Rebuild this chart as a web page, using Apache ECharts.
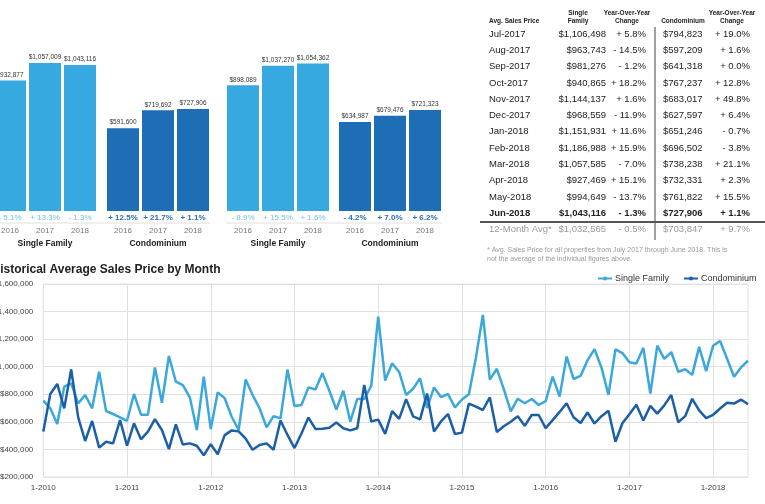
<!DOCTYPE html>
<html><head><meta charset="utf-8">
<script src="https://cdn.jsdelivr.net/npm/echarts@6/dist/echarts.min.js"></script>
<style>html,body{margin:0;padding:0;background:#fff}#c{width:765px;height:504px}</style>
</head><body><div id="c"></div>
<script>
// ---------- DATA ----------
const barYears = ['2016', '2017', '2018'];
const bar1SF = [932877, 1057009, 1043116];
const bar1SFChg = ['- 5.1%', '+ 13.3%', '- 1.3%'];
const bar1Condo = [591600, 719692, 727906];
const bar1CondoChg = ['+ 12.5%', '+ 21.7%', '+ 1.1%'];
const bar2SF = [898089, 1037270, 1054362];
const bar2SFChg = ['- 8.9%', '+ 15.5%', '+ 1.6%'];
const bar2Condo = [634987, 679476, 721323];
const bar2CondoChg = ['- 4.2%', '+ 7.0%', '+ 6.2%'];

const tableHeaders = ['Avg. Sales Price', 'Single\nFamily', 'Year-Over-Year\nChange', 'Condominium', 'Year-Over-Year\nChange'];
const tableMonths = ['Jul-2017','Aug-2017','Sep-2017','Oct-2017','Nov-2017','Dec-2017','Jan-2018','Feb-2018','Mar-2018','Apr-2018','May-2018','Jun-2018'];
const tableSF = ['$1,106,498','$963,743','$981,276','$940,865','$1,144,137','$968,559','$1,151,931','$1,186,988','$1,057,585','$927,469','$994,649','$1,043,116'];
const tableSFChg = ['+ 5.8%','- 14.5%','- 1.2%','+ 18.2%','+ 1.6%','- 11.9%','+ 11.6%','+ 15.9%','- 7.0%','+ 15.1%','- 13.7%','- 1.3%'];
const tableCondo = ['$794,823','$597,209','$641,318','$767,237','$683,017','$627,597','$651,246','$696,502','$738,238','$732,331','$761,822','$727,906'];
const tableCondoChg = ['+ 19.0%','+ 1.6%','+ 0.0%','+ 12.8%','+ 49.8%','+ 6.4%','- 0.7%','- 3.8%','+ 21.1%','+ 2.3%','+ 15.5%','+ 1.1%'];
const tableAvg = ['12-Month Avg*', '$1,032,565', '- 0.5%', '$703,847', '+ 9.7%'];
const footnote = ['* Avg. Sales Price for all properties from July 2017 through June 2018. This is', 'not the average of the individual figures above.'];

const lineTitle = 'Historical Average Sales Price by Month';
const lineYears = [2010, 2011, 2012, 2013, 2014, 2015, 2016, 2017, 2018];
const lineSF = [
  754000, 698000, 584000, 855000, 880000, 734000, 795000, 698000, 964000, 678000, 657000, 633000,
  608000, 802000, 652000, 652000, 995000, 739000, 1078000, 891000, 867000, 778000, 541000, 928000,
  548000, 814000, 771000, 637000, 541000, 908000, 795000, 698000, 560000, 642000, 625000, 980000,
  715000, 722000, 850000, 835000, 952000, 826000, 690000, 826000, 601000, 766000, 766000, 860000,
  1363000, 900000, 1025000, 962000, 795000, 840000, 916000, 700000, 850000, 780000, 802000, 705000,
  762000, 800000, 1065000, 1376000, 906000, 985000, 837000, 676000, 768000, 735000, 766000, 722000,
  751000, 928000, 783000, 1074000, 911000, 932877, 1046000, 1127000, 993000, 796000, 1126000, 1099000,
  1032000, 1024000, 1137000, 806000, 1153000, 1057009, 1106498, 963743, 981276, 940865, 1144137, 968559,
  1151931, 1186988, 1057585, 927469, 994649, 1043116
];
const lineCondo = [
  529000, 802000, 875000, 698000, 981000, 633000, 461000, 606000, 413000, 456000, 444000, 613000,
  427000, 589000, 473000, 529000, 620000, 541000, 402000, 582000, 435000, 444000, 427000, 357000,
  438000, 365000, 504000, 538000, 531000, 478000, 397000, 432000, 444000, 398000, 610000, 505000,
  410000, 516000, 631000, 549000, 550000, 558000, 595000, 554000, 538000, 554000, 867000, 603000,
  616000, 513000, 678000, 622000, 765000, 640000, 618000, 805000, 529000, 603000, 657000, 512000,
  522000, 732000, 710000, 686000, 777000, 526000, 568000, 601000, 640000, 571000, 650000, 650000,
  555000, 613000, 672000, 735000, 633000, 591600, 668000, 588000, 641000, 680000, 456000, 590000,
  656000, 724000, 610000, 716000, 660000, 719692, 794823, 597209, 641318, 767237, 683017, 627597,
  651246, 696502, 738238, 732331, 761822, 727906
];

// ---------- STYLE ----------
const FONT = 'Liberation Sans, Arial, Helvetica, sans-serif';
const SF_BAR = '#36a9e1', CONDO_BAR = '#1e6eb6';
const SF_PCT = '#72c1ea', CONDO_PCT = '#2a6fb5';
const SF_LINE = '#3aa8dd', CONDO_LINE = '#1b5fa6';

const monthLabels = [];
lineYears.forEach(y => { for (let m = 1; m <= 12; m++) monthLabels.push(m + '-' + y); });
monthLabels.length = lineSF.length;

const fmt = v => '$' + Math.round(v).toLocaleString('en-US');

const grids = [], xAxes = [], yAxes = [], series = [];
const barGroups = [
  {left: -7.5, data: bar1SF, chg: bar1SFChg, color: SF_BAR, pc: SF_PCT, pw: 'normal', name: 'Single Family'},
  {left: 105.5, data: bar1Condo, chg: bar1CondoChg, color: CONDO_BAR, pc: CONDO_PCT, pw: 'bold', name: 'Condominium'},
  {left: 225.5, data: bar2SF, chg: bar2SFChg, color: SF_BAR, pc: SF_PCT, pw: 'normal', name: 'Single Family'},
  {left: 337.5, data: bar2Condo, chg: bar2CondoChg, color: CONDO_BAR, pc: CONDO_PCT, pw: 'bold', name: 'Condominium'}
];
barGroups.forEach((g, i) => {
  grids.push({left: g.left, top: 1, width: 105, height: 210, containLabel: false, outerBoundsMode: 'none'});
  xAxes.push({
    type: 'category', gridIndex: i, data: barYears,
    axisLine: {show: false}, axisTick: {show: false},
    axisLabel: {
      margin: 2, interval: 0,
      formatter: (val, idx) => '{p|' + g.chg[idx] + '}\n{y|' + val + '}',
      rich: {
        p: {fontSize: 8, color: g.pc, fontWeight: g.pw, lineHeight: 10, fontFamily: FONT},
        y: {fontSize: 8, color: '#777', lineHeight: 16, fontFamily: FONT}
      }
    },
    name: g.name, nameLocation: 'middle', nameGap: 28,
    nameTextStyle: {fontSize: 8.5, fontWeight: 'bold', color: '#222', fontFamily: FONT}
  });
  yAxes.push({type: 'value', gridIndex: i, min: 0, max: 1500000, show: false});
  series.push({
    type: 'bar', name: 'bar' + i, xAxisIndex: i, yAxisIndex: i, data: g.data, barWidth: 32,
    itemStyle: {color: g.color}, silent: true,
    label: {show: true, position: 'top', distance: 2, fontSize: 6.5, color: '#333', fontFamily: FONT,
      formatter: p => fmt(p.value)}
  });
});

// line chart
grids.push({left: 43.3, right: 17, top: 284, bottom: 27, containLabel: false, outerBoundsMode: 'none',
  show: true, borderColor: '#e2e2e2', borderWidth: 1, backgroundColor: 'transparent'});
xAxes.push({
  type: 'category', gridIndex: 4, data: monthLabels, boundaryGap: false,
  axisLine: {show: false}, axisTick: {show: false},
  axisLabel: {interval: (i) => i % 12 === 0, fontSize: 8, color: '#444', margin: 7, fontFamily: FONT},
  splitLine: {show: true, interval: (i) => i % 12 === 0, lineStyle: {color: '#e2e2e2', width: 1}}
});
yAxes.push({
  type: 'value', gridIndex: 4, min: 200000, max: 1600000, interval: 200000,
  axisLine: {show: false}, axisTick: {show: false},
  axisLabel: {fontSize: 8, color: '#444', margin: 10, fontFamily: FONT, formatter: v => fmt(v)},
  splitLine: {lineStyle: {color: '#e2e2e2', width: 1}}
});
series.push({
  type: 'line', name: 'Single Family', xAxisIndex: 4, yAxisIndex: 4, data: lineSF,
  showSymbol: false, symbol: 'circle', symbolSize: 4,
  lineStyle: {color: SF_LINE, width: 2.5}, itemStyle: {color: SF_LINE}, z: 3
});
series.push({
  type: 'line', name: 'Condominium', xAxisIndex: 4, yAxisIndex: 4, data: lineCondo,
  showSymbol: false, symbol: 'circle', symbolSize: 4,
  lineStyle: {color: CONDO_LINE, width: 2.5}, itemStyle: {color: CONDO_LINE}, z: 4
});

// ---------- GRAPHIC (table, title, separators) ----------
const graphics = [];
const txt = (x, y, text, opt) => graphics.push({
  type: 'text', x: x, y: y, silent: true,
  style: Object.assign({text: text, fill: '#222', font: '9.5px ' + FONT, align: 'left', verticalAlign: 'middle'}, opt || {})
});
graphics.push({type: 'line', silent: true, shape: {x1: -10, y1: 223, x2: 210, y2: 223}, style: {stroke: '#e0e0e0', lineWidth: 1}});
graphics.push({type: 'line', silent: true, shape: {x1: 226, y1: 223, x2: 442, y2: 223}, style: {stroke: '#e0e0e0', lineWidth: 1}});
txt(-8.5, 270, lineTitle, {font: 'bold 12px ' + FONT, fill: '#222'});

const hx = [489, 578, 627, 683, 732];
txt(hx[0], 21, tableHeaders[0], {font: 'bold 6.5px ' + FONT, align: 'left'});
for (let k = 1; k < 5; k++) {
  const lines = tableHeaders[k].split('\n');
  if (lines.length === 2) {
    txt(hx[k], 13, lines[0], {font: 'bold 6.5px ' + FONT, align: 'center'});
    txt(hx[k], 21, lines[1], {font: 'bold 6.5px ' + FONT, align: 'center'});
  } else {
    txt(hx[k], 21, lines[0], {font: 'bold 6.5px ' + FONT, align: 'center'});
  }
}
const rowY0 = 34, rowH = 16.3;
tableMonths.forEach((m, r) => {
  const y = rowY0 + r * rowH;
  const last = r === tableMonths.length - 1;
  const f = (last ? 'bold ' : '') + '9.5px ' + FONT;
  txt(489, y, m, {font: f});
  txt(606, y, tableSF[r], {font: f, align: 'right'});
  txt(646, y, tableSFChg[r], {font: f, align: 'right'});
  txt(663, y, tableCondo[r], {font: f, align: 'left'});
  txt(750, y, tableCondoChg[r], {font: f, align: 'right'});
});
const avgY = rowY0 + tableMonths.length * rowH;
const gf = '9.5px ' + FONT;
txt(489, avgY, tableAvg[0], {font: gf, fill: '#9a9a9a'});
txt(606, avgY, tableAvg[1], {font: gf, fill: '#9a9a9a', align: 'right'});
txt(646, avgY, tableAvg[2], {font: gf, fill: '#9a9a9a', align: 'right'});
txt(663, avgY, tableAvg[3], {font: gf, fill: '#9a9a9a', align: 'left'});
txt(750, avgY, tableAvg[4], {font: gf, fill: '#9a9a9a', align: 'right'});
graphics.push({type: 'line', silent: true, shape: {x1: 655, y1: 27, x2: 655, y2: 240}, style: {stroke: '#444', lineWidth: 1}});
graphics.push({type: 'line', silent: true, shape: {x1: 480, y1: 222, x2: 765, y2: 222}, style: {stroke: '#555', lineWidth: 2}});
txt(487, 250, footnote[0], {font: '7px ' + FONT, fill: '#9a9a9a'});
txt(487, 259.5, footnote[1], {font: '7px ' + FONT, fill: '#9a9a9a'});

const chart = echarts.init(document.getElementById('c'), null, {renderer: 'canvas'});
chart.setOption({
  animation: false,
  backgroundColor: '#fff',
  textStyle: {fontFamily: FONT},
  legend: {
    data: ['Single Family', 'Condominium'], left: 592, top: 269, itemGap: 14,
    itemWidth: 14, itemHeight: 5, selectedMode: false,
    textStyle: {fontSize: 9, color: '#333', fontFamily: FONT, padding: [0, 0, 0, -2]}
  },
  grid: grids, xAxis: xAxes, yAxis: yAxes, series: series,
  graphic: graphics
});
</script></body></html>
